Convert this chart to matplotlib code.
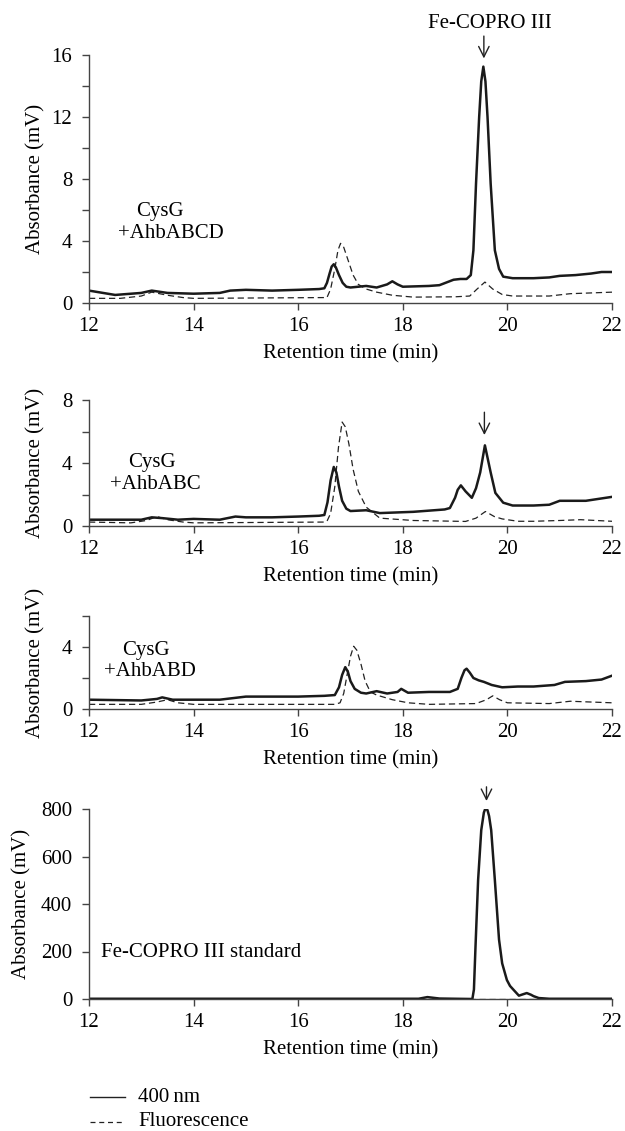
import numpy as np
import matplotlib
matplotlib.use("Agg")
import matplotlib.pyplot as plt
from matplotlib.lines import Line2D

plt.rcParams['font.family'] = ['Liberation Serif', 'DejaVu Serif']
plt.rcParams['font.size'] = 15

# ---- data (time in min, absorbance in mV) ----
t1_abs = [12.0, 12.5, 13.0, 13.2, 13.5, 14.0, 14.5, 14.7, 15.0, 15.5, 16.0, 16.4, 16.5, 16.55,
          16.6, 16.64, 16.68, 16.72, 16.78, 16.85, 16.92, 17.0, 17.3, 17.5, 17.7, 17.8, 17.9, 18.0,
          18.5, 18.7, 18.97, 19.1, 19.22, 19.3, 19.35, 19.4, 19.46, 19.5, 19.54, 19.58, 19.62,
          19.68, 19.76, 19.84, 19.92, 20.1, 20.5, 20.8, 21.0, 21.3, 21.6, 21.8, 22.0]
y1_abs = [0.8, 0.52, 0.65, 0.8, 0.65, 0.6, 0.65, 0.8, 0.85, 0.8, 0.85, 0.9, 0.95, 1.3,
          1.9, 2.35, 2.5, 2.3, 1.8, 1.3, 1.05, 1.0, 1.1, 1.0, 1.2, 1.4, 1.2, 1.05,
          1.1, 1.15, 1.5, 1.55, 1.55, 1.8, 3.4, 7.7, 12.0, 14.3, 15.25, 14.3, 12.0,
          7.7, 3.4, 2.2, 1.7, 1.6, 1.6, 1.65, 1.75, 1.8, 1.9, 2.0, 2.0]
t1_flu = [12.0, 12.6, 13.0, 13.2, 13.5, 13.8, 14.0, 16.5, 16.55, 16.62, 16.7, 16.76, 16.81, 16.87,
          16.95, 17.05, 17.15, 17.3, 17.5, 17.8, 18.2, 19.0, 19.28, 19.42, 19.57, 19.72, 19.9,
          20.1, 20.8, 21.2, 22.0]
y1_flu = [0.3, 0.3, 0.45, 0.7, 0.5, 0.35, 0.3, 0.35, 0.35, 0.9, 2.2, 3.4, 3.85, 3.6,
          2.8, 1.8, 1.2, 0.9, 0.7, 0.5, 0.38, 0.4, 0.45, 0.9, 1.35, 0.9, 0.55,
          0.45, 0.45, 0.6, 0.7]

t2_abs = [12.0, 12.5, 13.0, 13.2, 13.4, 13.7, 14.0, 14.5, 14.8, 15.0, 15.5, 16.0, 16.4, 16.5,
          16.56, 16.62, 16.68, 16.73, 16.78, 16.84, 16.92, 17.0, 17.3, 17.56, 18.2, 18.8, 18.9,
          19.0, 19.05, 19.11, 19.2, 19.32, 19.4, 19.48, 19.57, 19.68, 19.77, 19.92, 20.1, 20.5,
          20.8, 21.0, 21.5, 21.8, 22.0]
y2_abs = [0.4, 0.4, 0.4, 0.55, 0.5, 0.4, 0.45, 0.4, 0.6, 0.55, 0.55, 0.6, 0.65, 0.7,
          1.5, 2.9, 3.75, 3.4, 2.5, 1.6, 1.1, 0.95, 1.0, 0.82, 0.9, 1.05, 1.14,
          1.8, 2.3, 2.58, 2.2, 1.79, 2.4, 3.4, 5.12, 3.4, 2.1, 1.48, 1.3, 1.3,
          1.35, 1.6, 1.6, 1.75, 1.85]
t2_flu = [12.0, 12.8, 13.1, 13.3, 13.5, 13.8, 14.0, 16.5, 16.55, 16.62, 16.7, 16.77, 16.84, 16.9,
          16.97, 17.05, 17.15, 17.3, 17.56, 18.2, 19.2, 19.4, 19.58, 19.75, 19.9, 20.2, 20.5,
          21.0, 21.4, 22.0]
y2_flu = [0.25, 0.2, 0.35, 0.6, 0.4, 0.25, 0.2, 0.25, 0.3, 0.8, 2.5, 5.0, 6.6, 6.3,
          5.2, 3.6, 2.2, 1.2, 0.5, 0.35, 0.29, 0.5, 0.92, 0.6, 0.45, 0.3, 0.3,
          0.35, 0.4, 0.3]

t3_abs = [12.0, 13.0, 13.3, 13.4, 13.6, 14.0, 14.5, 15.0, 15.5, 16.0, 16.5, 16.7, 16.78, 16.84,
          16.9, 16.95, 17.0, 17.08, 17.2, 17.3, 17.5, 17.7, 17.9, 17.97, 18.1, 18.5, 18.9, 19.05,
          19.12, 19.18, 19.22, 19.28, 19.35, 19.45, 19.55, 19.7, 19.9, 20.2, 20.5, 20.9, 21.1,
          21.5, 21.8, 22.0]
y3_abs = [0.6, 0.55, 0.65, 0.75, 0.6, 0.6, 0.6, 0.8, 0.8, 0.8, 0.85, 0.9, 1.4, 2.2,
          2.7, 2.4, 1.8, 1.3, 1.05, 1.0, 1.15, 1.0, 1.1, 1.3, 1.05, 1.1, 1.1, 1.3,
          2.0, 2.5, 2.6, 2.35, 2.0, 1.85, 1.75, 1.55, 1.4, 1.45, 1.45, 1.55, 1.75,
          1.8, 1.9, 2.15]
t3_flu = [12.0, 13.0, 13.3, 13.5, 13.7, 14.0, 16.7, 16.8, 16.87, 16.94, 17.0, 17.06, 17.12, 17.2,
          17.28, 17.38, 17.5, 17.8, 18.1, 18.5, 19.4, 19.6, 19.72, 19.85, 20.0, 20.8, 21.2, 22.0]
y3_flu = [0.3, 0.3, 0.45, 0.6, 0.4, 0.3, 0.3, 0.4, 1.0, 2.3, 3.4, 4.05, 3.8, 2.9,
          1.8, 1.1, 0.9, 0.6, 0.4, 0.3, 0.35, 0.6, 0.85, 0.6, 0.4, 0.35, 0.5, 0.4]

t4_abs = [12.0, 14.0, 16.0, 18.0, 18.3, 18.47, 18.7, 19.0, 19.33, 19.36, 19.39, 19.44, 19.5, 19.55,
          19.58, 19.62, 19.65, 19.69, 19.76, 19.84, 19.9, 19.99, 20.05, 20.12, 20.22, 20.3, 20.37,
          20.45, 20.5, 20.6, 20.8, 21.0, 22.0]
y4_abs = [1, 1, 1, 1, 1, 8, 2, 1, 0, 40, 220, 501, 711, 785,
          803, 795, 770, 711, 501, 250, 150, 80, 55, 38, 14, 20, 25,
          18, 12, 4, 1, 1, 1]
t4_flu = [12.0, 22.0]
y4_flu = [0.0, 0.0]

panels = [
    dict(t=t1_abs, y=y1_abs, tf=t1_flu, yf=y1_flu, ylim=16, major=[0, 4, 8, 12, 16], minor=[2, 6, 10, 14]),
    dict(t=t2_abs, y=y2_abs, tf=t2_flu, yf=y2_flu, ylim=8, major=[0, 4, 8], minor=[2, 6]),
    dict(t=t3_abs, y=y3_abs, tf=t3_flu, yf=y3_flu, ylim=6, major=[0, 4], minor=[2, 6]),
    dict(t=t4_abs, y=y4_abs, tf=t4_flu, yf=y4_flu, ylim=800, major=[0, 200, 400, 600, 800], minor=[]),
]

W, H = 625, 1131
fig = plt.figure(figsize=(W / 100, H / 100), dpi=100)
# axes boxes in pixels: (top, bottom)
boxes = [(55, 303), (400, 526), (616, 709), (809, 999)]
left_px, right_px = 89, 612
axc = '#444444'
fs = 15
axes = []
for p, (top, bot) in zip(panels, boxes):
    ax = fig.add_axes([left_px / W, 1 - bot / H, (right_px - left_px) / W, (bot - top) / H])
    ax.plot(p['tf'], p['yf'], color='#222222', lw=0.9, ls=(0, (5, 3)))
    ax.plot(p['t'], p['y'], color='#1a1a1a', lw=1.8)
    ax.set_xlim(12, 22)
    ax.set_ylim(0, p['ylim'])
    ax.set_xticks(range(12, 23, 2))
    ax.set_yticks(p['major'])
    ax.set_yticks(p['minor'], minor=True)
    for s in ['top', 'right']:
        ax.spines[s].set_visible(False)
    for s in ['left', 'bottom']:
        ax.spines[s].set_color(axc)
        ax.spines[s].set_linewidth(1.0)
    ax.tick_params(which='both', direction='out', length=5, width=1.0, color=axc, labelsize=fs)
    ax.tick_params(axis='y', pad=7)
    ax.tick_params(axis='x', pad=5)
    ax.set_xlabel('Retention time (min)', fontsize=fs, labelpad=6)
    ax.set_ylabel('Absorbance (mV)', fontsize=fs)
    axes.append(ax)

for ax in axes[:3]:
    ax.yaxis.set_label_coords((45 - left_px) / (right_px - left_px), 0.5)
axes[3].yaxis.set_label_coords((31 - left_px) / (right_px - left_px), 0.5)

arrow = dict(arrowstyle='->,head_length=0.5,head_width=0.25', color='#222222', lw=1.0)

ax1, ax2, ax3, ax4 = axes
ax1.text(13.36, 5.9, 'CysG', ha='center', va='center', fontsize=fs)
ax1.text(13.56, 4.5, '+AhbABCD', ha='center', va='center', fontsize=fs)
ax1.text(19.67, 18.06, 'Fe-COPRO III', ha='center', va='center', fontsize=fs, clip_on=False)
ax1.annotate('', xy=(19.55, 15.6), xytext=(19.55, 17.4), arrowprops=arrow, annotation_clip=False)

ax2.text(13.2, 4.06, 'CysG', ha='center', va='center', fontsize=fs)
ax2.text(13.26, 2.65, '+AhbABC', ha='center', va='center', fontsize=fs)
ax2.annotate('', xy=(19.56, 5.6), xytext=(19.56, 7.4), arrowprops=arrow)

ax3.text(13.08, 3.8, 'CysG', ha='center', va='center', fontsize=fs)
ax3.text(13.16, 2.43, '+AhbABD', ha='center', va='center', fontsize=fs)

ax4.text(12.22, 195, 'Fe-COPRO III standard', ha='left', va='center', fontsize=fs)
ax4.annotate('', xy=(19.6, 822), xytext=(19.6, 905), arrowprops=arrow, annotation_clip=False)

# legend
for ypx, ls, lw, lab in [(1097, '-', 1.0, '400\u2009nm'), (1122, (0, (4, 3)), 0.9, 'Fluorescence')]:
    yf = 1 - ypx / H
    fig.add_artist(Line2D([90 / W, 125 / W], [yf, yf], color='#222222', lw=lw, ls=ls))
    fig.text(138 / W, yf, lab, ha='left', va='center', fontsize=fs)

fig.savefig('out.png', dpi=100)
